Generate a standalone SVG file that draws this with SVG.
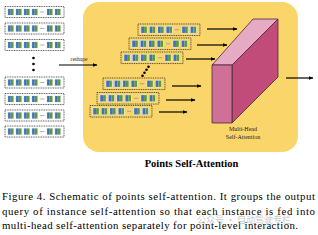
<svg xmlns="http://www.w3.org/2000/svg" xmlns:xlink="http://www.w3.org/1999/xlink" width="318" height="235" viewBox="0 0 318 235">
<style>
.frame{fill:none;stroke:#333;stroke-width:0.8;stroke-dasharray:1 0.7}
.cell{fill:#e4e6e8}
.b{fill:#3f6fc2}
.g{fill:#5a9a3a}
.dash{stroke:#999;stroke-width:0.8}
.arr{stroke:#000;stroke-width:1.2;fill:none;marker-end:url(#ah)}
.dot{fill:#000}
.face{stroke:#4a2a35;stroke-width:0.8;stroke-linejoin:round}
.small{font-family:"Liberation Serif",serif;font-size:6px;fill:#222;text-anchor:middle}
.cap{font-family:"Liberation Serif",serif;font-size:10.8px;fill:#000}
</style>
<defs>
<marker id="ah" viewBox="0 0 10 10" refX="9" refY="5" markerWidth="5" markerHeight="5" orient="auto" markerUnits="userSpaceOnUse"><path d="M0,1 L10,5 L0,9 z" fill="#000"/></marker>
<g id="pair"><rect class="cell" x="0" y="2" width="6.5" height="7"/><rect class="b" x="0.6" y="2.5" width="2.6" height="6"/><rect class="g" x="3.3" y="2.5" width="2.6" height="6"/></g>
<g id="strip">
<rect class="frame" x="0" y="0" width="59" height="11"/>
<use xlink:href="#pair" x="2.5"/><use xlink:href="#pair" x="10.5"/><use xlink:href="#pair" x="18.5"/><use xlink:href="#pair" x="26.5"/>
<line class="dash" x1="35.2" y1="5.5" x2="39.2" y2="5.5"/>
<use xlink:href="#pair" x="41.5"/><use xlink:href="#pair" x="49.5"/>
</g>
</defs>
<rect width="318" height="235" fill="#fff"/>

<g id="input-queries">
<use xlink:href="#strip" x="5" y="6.5"/>
<use xlink:href="#strip" x="5" y="23"/>
<use xlink:href="#strip" x="5" y="39.5"/>
<circle class="dot" cx="33.5" cy="58" r="1.3"/><circle class="dot" cx="33.5" cy="64" r="1.3"/><circle class="dot" cx="33.5" cy="70" r="1.3"/>
<use xlink:href="#strip" x="5" y="77"/>
<use xlink:href="#strip" x="5" y="93.5"/>
<use xlink:href="#strip" x="5" y="110"/>
<use xlink:href="#strip" x="5" y="126"/>
</g>

<g id="points-self-attention">
<rect x="83" y="2" width="215" height="150" rx="16" fill="#FAD66A"/>
<g id="grouped-instances">
<use xlink:href="#strip" transform="translate(138,24) scale(1.05)"/>
<use xlink:href="#strip" transform="translate(129,38) scale(1.05)"/>
<use xlink:href="#strip" transform="translate(121,52) scale(1.05)"/>
<circle class="dot" cx="148.5" cy="66.8" r="1.3"/><circle class="dot" cx="146.5" cy="69.8" r="1.3"/><circle class="dot" cx="144.5" cy="72.8" r="1.3"/><circle class="dot" cx="142.5" cy="75.8" r="1.3"/>
<use xlink:href="#strip" transform="translate(103,78) scale(1.05)"/>
<use xlink:href="#strip" transform="translate(97,92.5) scale(1.05)"/>
<use xlink:href="#strip" transform="translate(90,105.5) scale(1.05)"/>
</g>
<g id="multi-head-self-attention">
<polygon class="face" points="212,65 253,19 278,19 232,65" fill="#E6AAC4"/>
<polygon class="face" points="232,65 278,19 278,77 232,123" fill="#C24C79"/>
<rect class="face" x="212" y="65" width="20" height="58" fill="#CF7096"/>
<text class="small" x="243" y="130.5">Multi-Head</text>
<text class="small" x="243" y="139">Self-Attention</text>
</g>
<text x="191.5" y="167" font-family="Liberation Serif,serif" font-size="10.5" font-weight="bold" text-anchor="middle">Points Self-Attention</text>
</g>

<g id="connectors">
<line class="arr" x1="59" y1="65" x2="97" y2="65"/>
<text x="79" y="61" font-family="Liberation Serif,serif" font-size="5.5" text-anchor="middle" fill="#222">reshape</text>
<line class="arr" x1="207" y1="29" x2="237" y2="29"/>
<line class="arr" x1="197" y1="45" x2="227" y2="45"/>
<line class="arr" x1="186" y1="59" x2="215" y2="59"/>
<line class="arr" x1="172" y1="86" x2="201" y2="86"/>
<line class="arr" x1="166" y1="100" x2="195" y2="100"/>
<line class="arr" x1="159" y1="112" x2="187" y2="112"/>
<line class="arr" x1="286" y1="78" x2="313" y2="78"/>
</g>

<g id="caption">
<text class="cap" x="2" y="200" textLength="313" lengthAdjust="spacing">Figure 4. Schematic of points self-attention.  It groups the output</text>
<text class="cap" x="2" y="214.5" textLength="313" lengthAdjust="spacing">query of instance self-attention so that each instance is fed into</text>
<text class="cap" x="2" y="229" textLength="296" lengthAdjust="spacing">multi-head self-attention separately for point-level interaction.</text>
<text x="197" y="223" font-family="Noto Sans CJK SC,sans-serif" font-size="9" fill="#b8b8b8" fill-opacity="0.75">公众号 · 自动驾驶专栏</text>
</g>
</svg>
